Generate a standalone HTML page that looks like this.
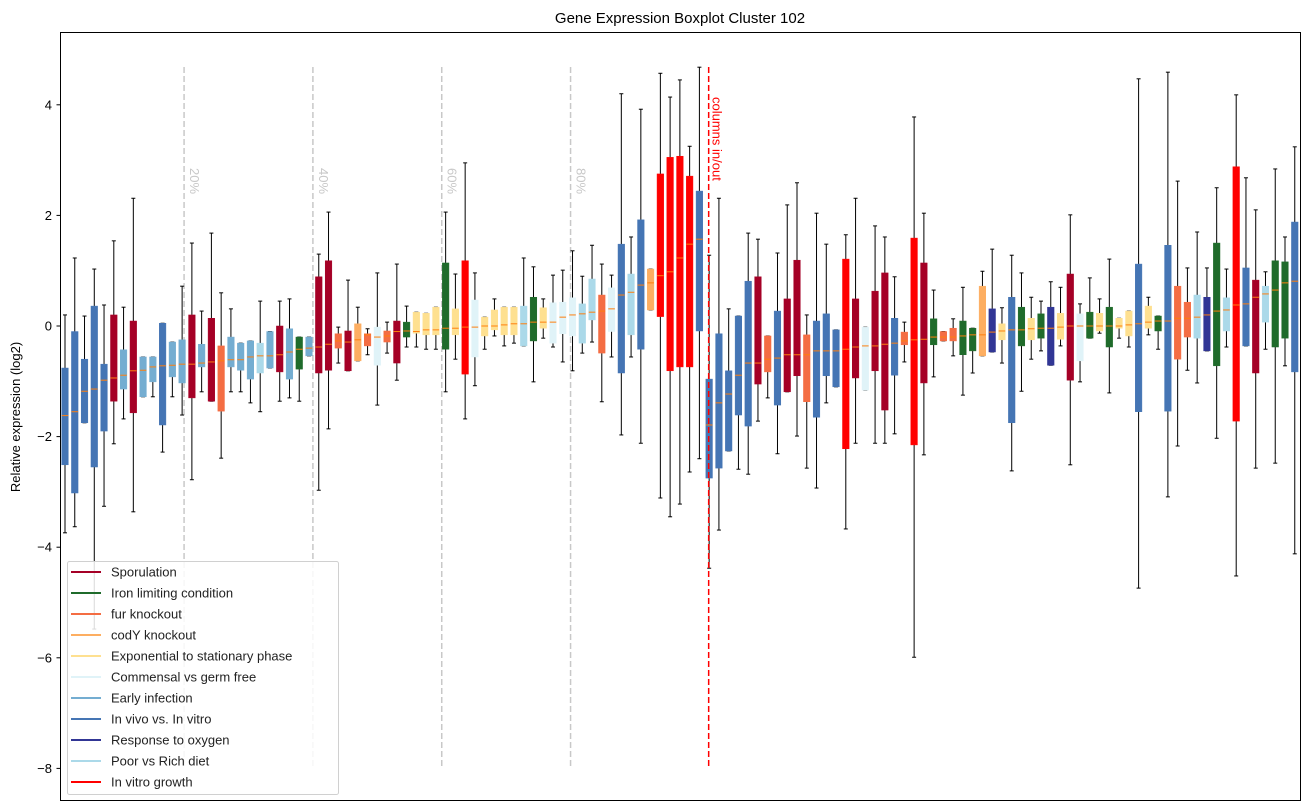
<!DOCTYPE html>
<html><head><meta charset="utf-8">
<style>
html,body{margin:0;padding:0;background:#fff;}
svg{display:block;font-family:"Liberation Sans","DejaVu Sans",sans-serif;}
</style></head>
<body>
<svg id="chart" width="1309" height="812" viewBox="0 0 1309 812" xmlns="http://www.w3.org/2000/svg">
<rect x="0" y="0" width="1309" height="812" fill="#fff"/>
<text x="680" y="23" font-size="15" text-anchor="middle" fill="#000">Gene Expression Boxplot Cluster 102</text>
<text transform="translate(20,417) rotate(-90)" font-size="13" text-anchor="middle" fill="#000">Relative expression (log2)</text>
<g id="ticks"></g>
<g id="guides"></g>
<g id="boxes"></g>
<g id="legend"></g>
<rect x="60.5" y="32.5" width="1240" height="768" fill="none" stroke="#000" stroke-width="1"/>
</svg>
<script>
const groupNames = ["Sporulation","Iron limiting condition","fur knockout","codY knockout","Exponential to stationary phase","Commensal vs germ free","Early infection","In vivo vs. In vitro","Response to oxygen","Poor vs Rich diet","In vitro growth"];
const groupColors = ["#a50026","#1f6b2b","#f46d43","#fdae61","#fee090","#e0f3f8","#74add1","#4575b4","#313695","#abd9e9","#ff0000"];
const boxGroup = [7,7,7,7,7,0,6,0,6,6,7,6,6,0,6,0,2,6,6,6,9,6,0,6,1,6,0,0,2,0,3,2,5,2,0,1,4,4,4,1,4,10,5,4,4,4,4,9,1,4,5,5,5,9,9,2,5,7,9,7,3,10,10,10,10,7,
7,7,7,7,7,0,2,7,0,0,2,7,7,7,10,0,5,0,0,7,2,10,0,1,2,2,1,1,3,8,
4,7,1,4,1,8,4,0,5,1,4,1,4,4,7,4,1,7,2,2,9,8,1,9,10,7,0,9,1,1,7];
const whiskLow = [-3.74,-3.63,-1.75,-5.48,-3.26,-2.13,-1.68,-3.36,-1.28,-1.28,-2.28,-1.28,-1.61,-2.78,-1.19,-1.36,-2.39,-1.19,-1.19,-1.39,-1.55,-0.76,-1.36,-1.3,-1.36,-0.54,-2.97,-1.86,-0.67,-0.81,-0.63,-0.52,-1.43,-0.49,-0.98,-0.38,-0.38,-0.42,-0.42,-1.19,-0.6,-1.68,-1.08,-0.42,-0.18,-0.36,-0.31,-0.36,-1.01,-0.22,-0.38,-0.65,-0.81,-0.49,-0.29,-1.37,-0.56,-1.97,-0.56,-2.12,0.29,-3.11,-3.45,-3.22,-2.64,-2.4,
-4.38,-3.69,-2.26,-2.59,-2.68,-1.72,-1.3,-2.31,-1.19,-1.99,-2.57,-2.93,-1.39,-1.1,-3.67,-2.12,-1.16,-2.12,-2.12,-1.95,-0.65,-5.99,-2.33,-0.92,-0.27,-0.54,-1.25,-0.85,-0.54,-0.47,
-0.67,-2.62,-1.18,-0.6,-0.45,-0.71,-0.36,-2.51,-1.01,-0.22,-0.13,-1.21,-0.22,-0.38,-4.74,-0.16,-0.42,-3.09,-2.17,-0.8,-1.03,-0.45,-2.03,-0.38,-4.52,-0.36,-2.57,-0.42,-2.48,-0.72,-4.12];
const q1 = [-2.51,-3.02,-1.75,-2.55,-1.9,-1.36,-1.14,-1.57,-1.28,-1.01,-1.79,-0.92,-1.03,-1.3,-0.74,-1.36,-1.54,-0.74,-0.8,-0.96,-0.85,-0.76,-0.83,-0.96,-0.78,-0.54,-0.85,-0.8,-0.4,-0.81,-0.63,-0.36,-0.71,-0.29,-0.67,-0.2,-0.13,-0.16,-0.16,-0.42,-0.16,-0.87,-0.56,-0.18,-0.07,-0.16,-0.16,-0.36,-0.27,-0.04,-0.31,-0.14,-0.18,-0.31,0.11,-0.49,-0.1,-0.85,-0.16,-0.42,0.29,0.17,-0.81,-0.74,-0.74,-0.09,
-2.75,-2.57,-2.26,-1.61,-1.81,-1.05,-0.83,-1.43,-1.19,-0.9,-1.37,-1.65,-0.9,-1.1,-2.22,-0.94,-1.16,-0.81,-1.52,-0.89,-0.34,-2.15,-1.03,-0.34,-0.27,-0.27,-0.52,-0.45,-0.54,-0.47,
-0.25,-1.75,-0.36,-0.25,-0.22,-0.71,-0.24,-0.98,-0.63,-0.22,-0.09,-0.38,-0.04,-0.18,-1.55,-0.04,-0.09,-1.54,-0.6,-0.2,-0.22,-0.45,-0.72,-0.09,-1.72,-0.36,-0.85,0.07,-0.38,-0.22,-0.83];
const medians = [-1.62,-1.55,-1.18,-1.14,-0.98,-0.94,-0.89,-0.81,-0.8,-0.74,-0.72,-0.71,-0.69,-0.69,-0.67,-0.65,-0.63,-0.61,-0.61,-0.56,-0.54,-0.54,-0.52,-0.47,-0.42,-0.4,-0.38,-0.33,-0.27,-0.29,-0.25,-0.16,-0.2,-0.18,-0.1,-0.09,-0.1,-0.07,-0.07,-0.04,-0.04,-0.02,-0.02,0,0,0.02,0.04,0.04,0.07,0.07,0.07,0.16,0.2,0.22,0.25,0.27,0.31,0.56,0.61,0.74,0.78,0.91,0.98,1.23,1.48,1.57,
-1.79,-1.39,-1.23,-0.89,-0.67,-0.67,-0.6,-0.58,-0.52,-0.52,-0.52,-0.45,-0.45,-0.45,-0.42,-0.38,-0.36,-0.36,-0.33,-0.31,-0.27,-0.25,-0.24,-0.2,-0.2,-0.2,-0.18,-0.16,-0.16,-0.11,
-0.09,-0.07,-0.07,-0.05,-0.04,-0.04,-0.02,0,0,0,0,0,0,0.02,0.04,0.07,0.09,0.09,0.14,0.14,0.16,0.2,0.27,0.29,0.38,0.4,0.52,0.58,0.65,0.78,0.81];
const q3 = [-0.76,-0.1,-0.6,0.36,-0.69,0.2,-0.43,0.09,-0.56,-0.56,0.05,-0.29,-0.25,0.2,-0.33,0.14,-0.36,-0.2,-0.31,-0.27,-0.31,-0.1,0,-0.05,-0.2,-0.2,0.89,1.18,-0.14,-0.09,0.04,-0.14,-0.02,-0.09,0.09,0.07,0.25,0.23,0.34,1.14,0.31,1.18,0.47,0.16,0.29,0.34,0.34,0.36,0.52,0.33,0.42,0.43,0.51,0.4,0.85,0.56,0.69,1.48,0.94,1.92,1.03,2.75,3.05,3.07,2.71,2.44,
-0.96,-0.14,-0.81,0.18,0.81,0.89,-0.18,0.27,0.49,1.19,-0.16,0.09,0.22,-0.07,1.21,0.49,-0.02,0.63,0.96,0.14,-0.11,1.59,1.14,0.13,-0.1,-0.04,0.09,-0.04,0.72,0.31,
0.04,0.52,0.34,0.14,0.22,0.34,0.23,0.94,0.22,0.25,0.23,0.34,0.14,0.27,1.12,0.36,0.18,1.46,0.72,0.43,0.56,0.52,1.5,0.51,2.88,1.05,0.83,0.72,1.18,1.16,1.88];
const whiskHigh = [0.2,1.23,0.18,1.03,0.38,1.54,0.34,2.31,-0.56,-0.56,0.05,-0.29,0.72,1.5,0.27,1.68,0.6,0.31,-0.31,-0.27,0.45,-0.1,0.45,0.49,-0.2,-0.2,1.3,2.06,-0.02,0.83,0.34,-0.05,0.96,0.07,1.12,0.36,0.25,0.23,0.34,2.06,0.94,2.95,0.96,0.16,0.49,0.34,0.34,1.23,1.07,0.49,0.92,1.01,1.36,0.9,1.46,1.12,0.92,4.2,1.61,3.92,1.03,4.57,4.14,4.45,3.25,4.68,
1.28,2.31,0.31,0.18,1.68,1.57,-0.18,1.32,2.19,2.59,0.2,2.04,1.48,-0.07,1.65,2.31,-0.02,1.81,1.61,0.89,0.07,3.78,2.04,0.65,-0.1,0.13,0.7,-0.04,0.99,1.39,
0.33,1.28,0.96,0.52,0.45,0.8,0.7,2.01,0.4,0.87,0.49,1.21,0.14,0.27,4.47,0.52,0.18,4.59,2.62,1.05,1.7,1.05,2.5,1.03,4.18,2.68,2.1,0.98,2.84,1.61,3.24];
const yTicks = [4,2,0,-2,-4,-6,-8];
const pctLines = [0.2,0.4,0.6,0.8];
const pctLabels = ["20%","40%","60%","80%"];
const splitIndex = 66;

const NS = "http://www.w3.org/2000/svg";
function yS(v){ return 326 - v*55.3; }
function xS(i){ return 65 + i*9.76; }
function mk(tag, attrs, parent){ const e=document.createElementNS(NS,tag); for(const k in attrs) e.setAttribute(k,attrs[k]); parent.appendChild(e); return e; }

const tickG = document.getElementById('ticks');
yTicks.forEach(t=>{
  const y=yS(t);
  const tl=mk('line',{x1:56.5,x2:60.5,y1:y,y2:y,stroke:'#000','stroke-width':1},tickG);
  
  
  const tx=mk('text',{x:52,y:y+4.5,'font-size':13,'text-anchor':'end',fill:'#000'},tickG);
  tx.textContent = t<0 ? '\u2212'+Math.abs(t) : String(t);
  
  
});

const guideG = document.getElementById('guides');
pctLines.forEach((p,k)=>{
  const x = xS(p*splitIndex - 1);
  const ln=mk('line',{x1:x,x2:x,y1:67,y2:769,stroke:'#c8c8c8','stroke-width':1.5,'stroke-dasharray':'6,3'},guideG);
  
  
  const tx=mk('text',{transform:`translate(${x+6},168) rotate(90)`,'font-size':13,fill:'#c8c8c8'},guideG);
  tx.textContent=pctLabels[k];
  
  
});

const boxG = document.getElementById('boxes');
for(let i=0;i<medians.length;i++){
  const x=xS(i), col=groupColors[boxGroup[i]];
  const g=mk('g',{},boxG);
  
  
  mk('line',{x1:x,x2:x,y1:yS(whiskHigh[i]),y2:yS(q3[i]),stroke:'#000','stroke-width':1},g);
  mk('line',{x1:x,x2:x,y1:yS(q1[i]),y2:yS(whiskLow[i]),stroke:'#000','stroke-width':1},g);
  mk('line',{x1:x-2,x2:x+2,y1:yS(whiskHigh[i]),y2:yS(whiskHigh[i]),stroke:'#000','stroke-width':1},g);
  mk('line',{x1:x-2,x2:x+2,y1:yS(whiskLow[i]),y2:yS(whiskLow[i]),stroke:'#000','stroke-width':1},g);
  const top=yS(q3[i]), bot=yS(q1[i]);
  mk('rect',{x:x-3.3,y:top,width:6.6,height:Math.max(1,bot-top),fill:col,stroke:col,'stroke-width':0.5},g);
  mk('line',{x1:x-3.3,x2:x+3.3,y1:yS(medians[i]),y2:yS(medians[i]),stroke:'#ff7f0e','stroke-width':1},g);
}

const sx = xS(splitIndex - 0.05);
const sl=mk('line',{x1:sx,x2:sx,y1:67,y2:769,stroke:'#ff0000','stroke-width':1.5,'stroke-dasharray':'6,3'},guideG.parentNode);


const st=mk('text',{transform:`translate(${sx+4},97) rotate(90)`,'font-size':13,fill:'#ff0000'},guideG.parentNode);
st.textContent='columns in/out';



const legG = document.getElementById('legend');


mk('rect',{x:67.5,y:561.5,width:271,height:233,rx:2,fill:'#fff','fill-opacity':0.85,stroke:'#d0d0d0','stroke-width':1},legG);
groupNames.forEach((n,k)=>{
  const y=572+k*21;
  const eg=mk('g',{},legG);
  
  
  mk('line',{x1:71,x2:101,y1:y,y2:y,stroke:groupColors[k],'stroke-width':2},eg);
  const t=mk('text',{x:111,y:y+4.5,'font-size':13,fill:'#222'},eg);
  t.textContent=n;
});
</script>
</body></html>
